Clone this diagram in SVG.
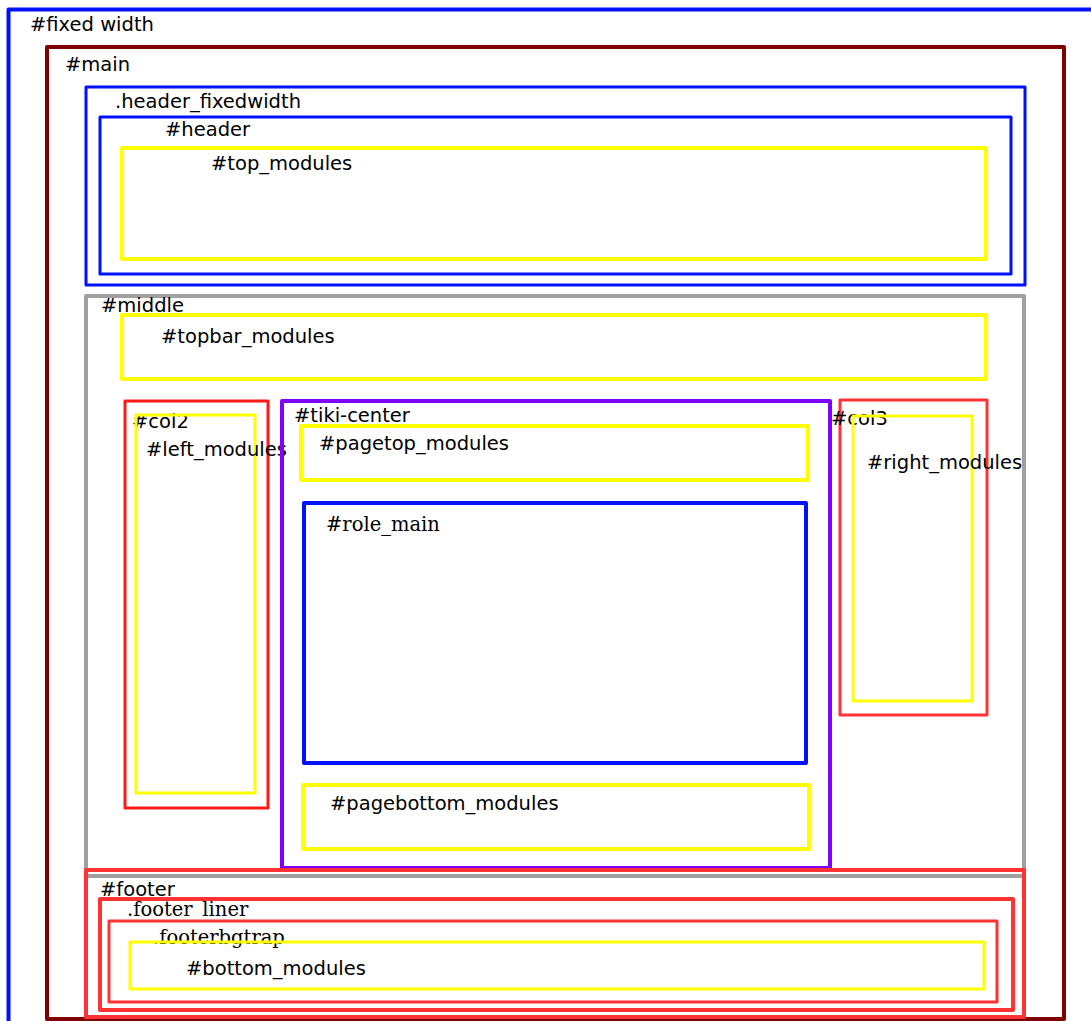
<svg xmlns="http://www.w3.org/2000/svg" width="1091" height="1021" viewBox="0 0 1091 1021">
<style>
rect{fill:none;stroke-linejoin:round}
text{font-family:"DejaVu Sans","Liberation Sans",sans-serif;font-size:19.5px;fill:#000}
text.serif{font-family:"DejaVu Serif","Liberation Serif",serif}
.blue{stroke:#0011ff}
.maroon{stroke:#800000}
.gray{stroke:#a0a0a0}
.yellow{stroke:#ffff00}
.red{stroke:#ff1a1a}
.lred{stroke:#ff3333}
.purple{stroke:#8000ff}
</style>
<rect width="1091" height="1021" style="fill:#fff;stroke:none"/>
<g id="fixed_width"><rect class="blue" x="8.5" y="9.5" width="1100" height="1030" stroke-width="4"/><text x="30" y="31">#fixed width</text></g>
<g id="main"><rect class="maroon" x="47" y="47" width="1017" height="972" stroke-width="4"/><text x="65" y="71">#main</text></g>
<g id="header_fixedwidth"><rect class="blue" x="86" y="87" width="939" height="198" stroke-width="3"/><text x="115" y="108">.header_fixedwidth</text></g>
<g id="header"><rect class="blue" x="100" y="117" width="911" height="157" stroke-width="3"/><text x="165" y="136">#header</text></g>
<g id="top_modules"><rect class="yellow" x="122" y="148" width="864" height="111" stroke-width="4"/><text x="211" y="170">#top_modules</text></g>
<g id="middle"><rect class="gray" x="86" y="296" width="938" height="580" stroke-width="4"/><text x="101" y="312">#middle</text></g>
<g id="topbar_modules"><rect class="yellow" x="122" y="315" width="864" height="64" stroke-width="4"/><text x="161" y="343">#topbar_modules</text></g>
<g id="col2"><rect class="red" x="125" y="401" width="143" height="407" stroke-width="3"/><text x="132" y="428">#col2</text></g>
<g id="left_modules"><rect class="yellow" x="136" y="415" width="119" height="378" stroke-width="3"/><text x="146" y="456">#left_modules</text></g>
<g id="tiki_center"><rect class="purple" x="282" y="401" width="548" height="467" stroke-width="4"/><text x="294" y="422">#tiki-center</text></g>
<g id="pagetop_modules"><rect class="yellow" x="301" y="426" width="507" height="54" stroke-width="4"/><text x="319" y="450">#pagetop_modules</text></g>
<g id="role_main"><rect class="blue" x="304" y="503" width="502" height="260" stroke-width="4"/><text class="serif" x="326" y="531">#role_main</text></g>
<g id="pagebottom_modules"><rect class="yellow" x="303" y="785" width="506" height="64" stroke-width="4"/><text x="330" y="810">#pagebottom_modules</text></g>
<g id="col3"><rect class="lred" x="840" y="400" width="147" height="315" stroke-width="3"/><text x="831" y="425">#col3</text></g>
<g id="right_modules"><rect class="yellow" x="853" y="416" width="119" height="285" stroke-width="3"/><text x="867" y="469">#right_modules</text></g>
<g id="footer"><rect class="lred" x="86" y="870" width="938" height="147" stroke-width="4"/><text x="100" y="896">#footer</text></g>
<g id="footer_liner"><rect class="lred" x="100" y="899" width="913" height="111" stroke-width="4"/><text class="serif" x="127" y="916">.footer_liner</text></g>
<g id="footerbgtrap"><rect class="lred" x="109" y="921" width="888" height="81" stroke-width="3"/><text class="serif" x="153" y="944">.footerbgtrap</text></g>
<g id="bottom_modules"><rect class="yellow" x="130" y="942" width="854" height="47" stroke-width="3"/><text x="186" y="975">#bottom_modules</text></g>
<g id="connectors"></g>
</svg>
